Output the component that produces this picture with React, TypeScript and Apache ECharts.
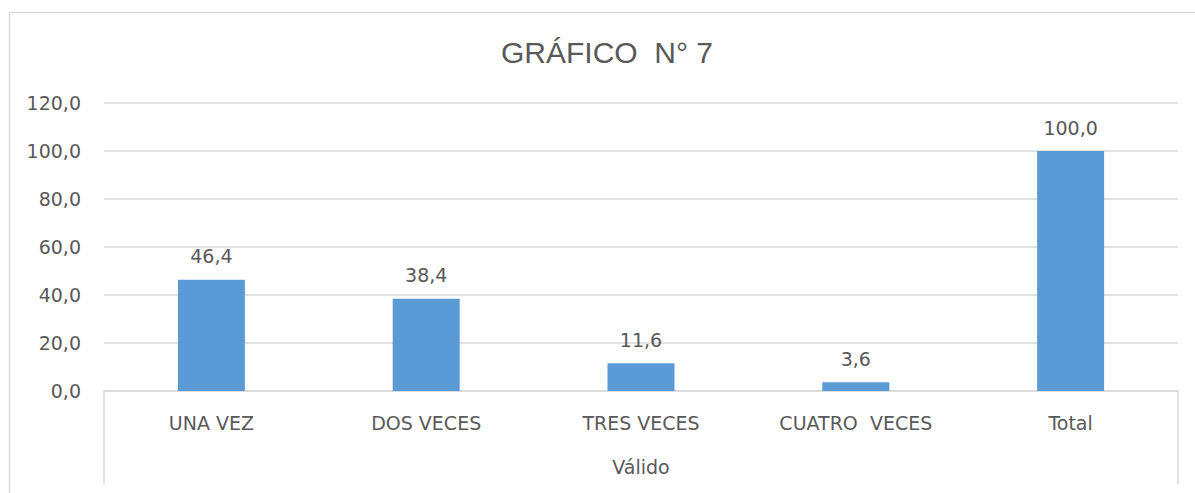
import React, { useEffect, useRef } from "react";
import * as echarts from "echarts";

const categories = ["UNA VEZ", "DOS VECES", "TRES VECES", "CUATRO  VECES", "Total"];
const values = [46.4, 38.4, 11.6, 3.6, 100.0];
const groupLabel = ["Válido"];
const titleText = "GRÁFICO  N° 7";

const fmt = (v: number) => v.toFixed(1).replace(".", ",");
const FONT = "DejaVu Sans";
const TXT = "#595959";
const FS = 19;

export default function App() {
  const ref = useRef<HTMLDivElement>(null);
  useEffect(() => {
    if (!ref.current) return;
    const chart = echarts.init(ref.current, undefined, { renderer: "svg" });
    chart.setOption({
      animation: false,
      backgroundColor: "#ffffff",
      graphic: [
        {
          type: "line",
          shape: { x1: 9.5, y1: 12.5, x2: 1195, y2: 12.5 },
          style: { stroke: "#d9d9d9", lineWidth: 1.5 },
          silent: true,
        },
        {
          type: "line",
          shape: { x1: 9.5, y1: 12.5, x2: 9.5, y2: 493 },
          style: { stroke: "#d9d9d9", lineWidth: 1.5 },
          silent: true,
        },
        {
          type: "text",
          x: 607,
          y: 52,
          style: {
            text: titleText,
            fontFamily: "Liberation Sans",
            fontSize: 30,
            fill: TXT,
            textAlign: "center",
            textVerticalAlign: "middle",
          },
        },
      ],
      grid: { left: 104, right: 17, top: 103, bottom: 102 },
      xAxis: [
        {
          type: "category",
          data: categories,
          axisLine: { show: true, lineStyle: { color: "#d9d9d9", width: 1.5 } },
          axisTick: { show: false },
          axisLabel: { color: TXT, fontFamily: FONT, fontSize: FS, margin: 22, interval: 0 },
        },
        {
          type: "category",
          data: groupLabel,
          position: "bottom",
          axisLine: { show: false },
          axisTick: {
            show: true,
            length: 93,
            interval: 0,
            lineStyle: { color: "#d9d9d9", width: 1.5 },
          },
          axisLabel: { color: TXT, fontFamily: FONT, fontSize: FS, margin: 66 },
        },
      ],
      yAxis: {
        type: "value",
        min: 0,
        max: 120,
        interval: 20,
        axisLine: { show: false },
        axisTick: { show: false },
        splitLine: { lineStyle: { color: "#d9d9d9", width: 1.5 } },
        axisLabel: {
          color: TXT,
          fontFamily: FONT,
          fontSize: FS,
          margin: 23,
          formatter: (v: number) => fmt(v),
        },
      },
      series: [
        {
          type: "bar",
          data: values,
          xAxisIndex: 0,
          barWidth: 67,
          itemStyle: { color: "#5B9BD5" },
          label: {
            show: true,
            position: "top",
            distance: 14,
            color: TXT,
            fontFamily: FONT,
            fontSize: FS,
            formatter: (p: any) => fmt(p.value),
          },
        },
      ],
    });
    return () => chart.dispose();
  }, []);
  return (
    <div
      ref={ref}
      style={{ position: "fixed", left: 0, top: 0, width: 1195, height: 493 }}
    />
  );
}
